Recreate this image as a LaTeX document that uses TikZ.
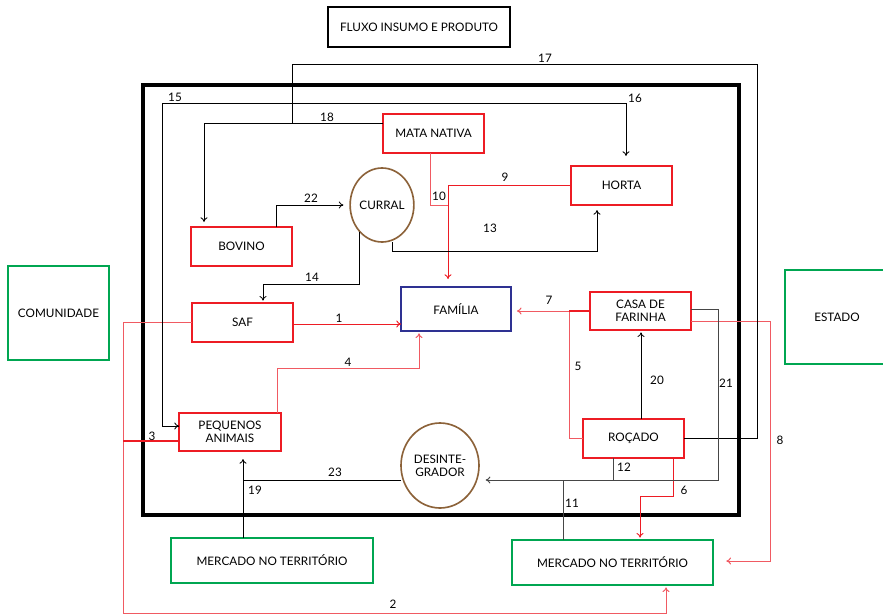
\documentclass[tikz,border=0pt]{standalone}
\usepackage{fontspec}
\setmainfont{Lato}
\usetikzlibrary{shapes.geometric,arrows.meta}
\definecolor{cred}{RGB}{237,28,36}
\definecolor{cpink}{RGB}{240,90,98}
\definecolor{cgreen}{RGB}{0,166,81}
\definecolor{cblue}{RGB}{46,49,146}
\definecolor{cbrown}{RGB}{140,98,57}
\definecolor{cgray}{RGB}{70,70,70}
\tikzset{
  box/.style={draw,line width=1.4pt,inner sep=0pt,outer sep=0pt,align=center,font=\fontsize{10}{11}\selectfont},
  redbox/.style={box,draw=cred},
  greenbox/.style={box,draw=cgreen},
  bluebox/.style={box,draw=cblue},
  circ/.style={ellipse,draw=cbrown,line width=1.4pt,inner sep=0pt,outer sep=0pt,align=center,font=\fontsize{10}{11}\selectfont},
  conn/.style={line width=0.7pt,black},
  redc/.style={line width=0.8pt,cred},
  pinkc/.style={line width=0.85pt,cpink},
  grayc/.style={line width=0.8pt,cgray},
  arr/.style={-{To[length=4pt,width=6pt]}},
  lbl/.style={font=\fontsize{10}{11}\selectfont,inner sep=0pt},
}
\begin{document}
\begin{tikzpicture}[x=0.03cm,y=-0.03cm]
\useasboundingbox (0,0) rectangle (883,616);
% frame
\draw[line width=3.6pt] (143,85) rectangle (739,515);
% nodes
\node[box,line width=1.3pt,minimum width=182*0.03cm,minimum height=40*0.03cm] (fluxo) at (419,27) {FLUXO INSUMO E PRODUTO};
\node[redbox,minimum width=101*0.03cm,minimum height=39*0.03cm] (mata) at (433.5,133.5) {MATA NATIVA};
\node[redbox,minimum width=101*0.03cm,minimum height=39*0.03cm] (horta) at (621.5,185.5) {HORTA};
\node[redbox,minimum width=101*0.03cm,minimum height=39*0.03cm] (bovino) at (241.5,246.5) {BOVINO};
\node[redbox,minimum width=101*0.03cm,minimum height=39*0.03cm] (saf) at (242.5,322.5) {SAF};
\node[bluebox,minimum width=110*0.03cm,minimum height=44*0.03cm] (familia) at (456,309) {FAMÍLIA};
\node[redbox,minimum width=101*0.03cm,minimum height=38*0.03cm] (casa) at (640.5,311) {CASA DE\\FARINHA};
\node[redbox,minimum width=101*0.03cm,minimum height=39*0.03cm] (rocado) at (633.5,438.5) {ROÇADO};
\node[redbox,minimum width=102*0.03cm,minimum height=38*0.03cm] (pa) at (230,432) {PEQUENOS\\ANIMAIS};
\node[greenbox,minimum width=202*0.03cm,minimum height=45*0.03cm] (merc1) at (272,560.5) {MERCADO NO TERRITÓRIO};
\node[greenbox,minimum width=201*0.03cm,minimum height=45*0.03cm] (merc2) at (612.5,562.5) {MERCADO NO TERRITÓRIO};
\node[greenbox,minimum width=101*0.03cm,minimum height=94*0.03cm] (comunidade) at (58.5,313) {COMUNIDADE};
\node[greenbox,minimum width=104*0.03cm,minimum height=94*0.03cm,text width=2.9cm] (estado) at (837,317) {ESTADO};
\node[circ,minimum width=60*0.03cm,minimum height=74*0.03cm] (curral) at (382,205) {CURRAL};
\node[circ,minimum width=78*0.03cm,minimum height=85*0.03cm] (desint) at (440,465.5) {DESINTE-\\GRADOR};
% connectors
% 1
\draw[redc,arr] (saf.east |- 0,324) -- (familia.west |- 0,324);
% 2 and SAF link
\coordinate (c2) at (123,613);
\draw[pinkc,arr,shorten >=2pt] (saf.west) -- (saf.west -| c2) -- (c2) -| (merc2.south -| 666,0);
% 3
\draw[redc,line width=1.5pt] (pa.west |- 0,441) -- (123,441);
% 4
\draw[pinkc,arr,shorten >=2pt] (pa.north -| 277,0) |- (419,368) -- (familia.south -| 419,0);
% 5
\draw[pinkc] (rocado.west) -| (569,311);
% 7
\draw[pinkc,arr,shorten >=5pt] (casa.west) -- (casa.west -| familia.east);
\draw[redc,line width=1.2pt] (casa.west) -- (569,311);
% 6
\draw[redc,arr,shorten >=2pt] (rocado.south -| 673,0) |- (640,496) -- (merc2.north -| 640,0);
% 8
\draw[pinkc,arr,shorten >=0.4cm] (casa.east |- 0,321) -| (770,561) -- (merc2.east |- 0,561);
% 9
\draw[redc,arr,shorten >=0.24cm] (horta.west |- 0,185) -| (familia.north -| 448,0);
% 10
\draw[pinkc] (mata.south -| 430,0) |- (448,205);
% 11
\draw[grayc] (563,480) -- (merc2.north -| 563,0);
% 12
\draw[grayc] (rocado.south -| 613,0) -- (613,480);
% 13
\draw[conn,arr,shorten >=0.15cm] (curral.south -| 392,0) |- (597,251) -- (horta.south -| 597,0);
% 14
\draw[conn,arr,shorten >=2pt] (curral.-130) |- (263,284) -- (saf.north -| 263,0);
% 15/16
\draw[conn,arr,shorten >=0.3cm] (pa.west |- 0,426) -| (162,103) -| (horta.north -| 626,0);
\draw[conn,arr] (162,426) -- (pa.west |- 0,426);
% 17
\draw[conn] (rocado.east |- 0,438) -| (757,64) -| (292,123);
% 18
\draw[conn,arr,shorten >=0.15cm] (mata.west |- 0,123) -| (bovino.north -| 204,0);
% 19
\draw[conn,arr,shorten >=0.24cm] (merc1.north -| 243,0) -- (pa.south -| 243,0);
% 20
\draw[conn,arr,shorten >=2pt] (rocado.north -| 641,0) -- (casa.south -| 641,0);
% 21
\draw[grayc,arr,shorten >=0.2cm] (casa.east |- 0,309) -| (718,480) -- (desint.east |- 0,480);
% 22
\draw[conn,arr,shorten >=0.2cm] (bovino.north -| 276,0) |- (curral.west);
% 23
\draw[conn] (desint.west |- 0,480) -- (243,480);
% labels
\node[lbl] (l1) at (339,318) {1};
\node[lbl] (l2) at (393,604) {2};
\node[lbl] (l3) at (152,436) {3};
\node[lbl] (l4) at (348,362) {4};
\node[lbl] (l5) at (578,366) {5};
\node[lbl] (l6) at (684,490) {6};
\node[lbl] (l7) at (549,300) {7};
\node[lbl] (l8) at (780,440) {8};
\node[lbl] (l9) at (505,177) {9};
\node[lbl] (l10) at (439,196) {10};
\node[lbl] (l11) at (572,503) {11};
\node[lbl] (l12) at (624,467) {12};
\node[lbl] (l13) at (490,228) {13};
\node[lbl] (l14) at (312,277) {14};
\node[lbl] (l15) at (175,97) {15};
\node[lbl] (l16) at (635,98) {16};
\node[lbl] (l17) at (545,58) {17};
\node[lbl] (l18) at (327,117) {18};
\node[lbl] (l19) at (255,490) {19};
\node[lbl] (l20) at (657,380) {20};
\node[lbl] (l21) at (726,383) {21};
\node[lbl] (l22) at (311,198) {22};
\node[lbl] (l23) at (335,472) {23};
\end{tikzpicture}
\end{document}
